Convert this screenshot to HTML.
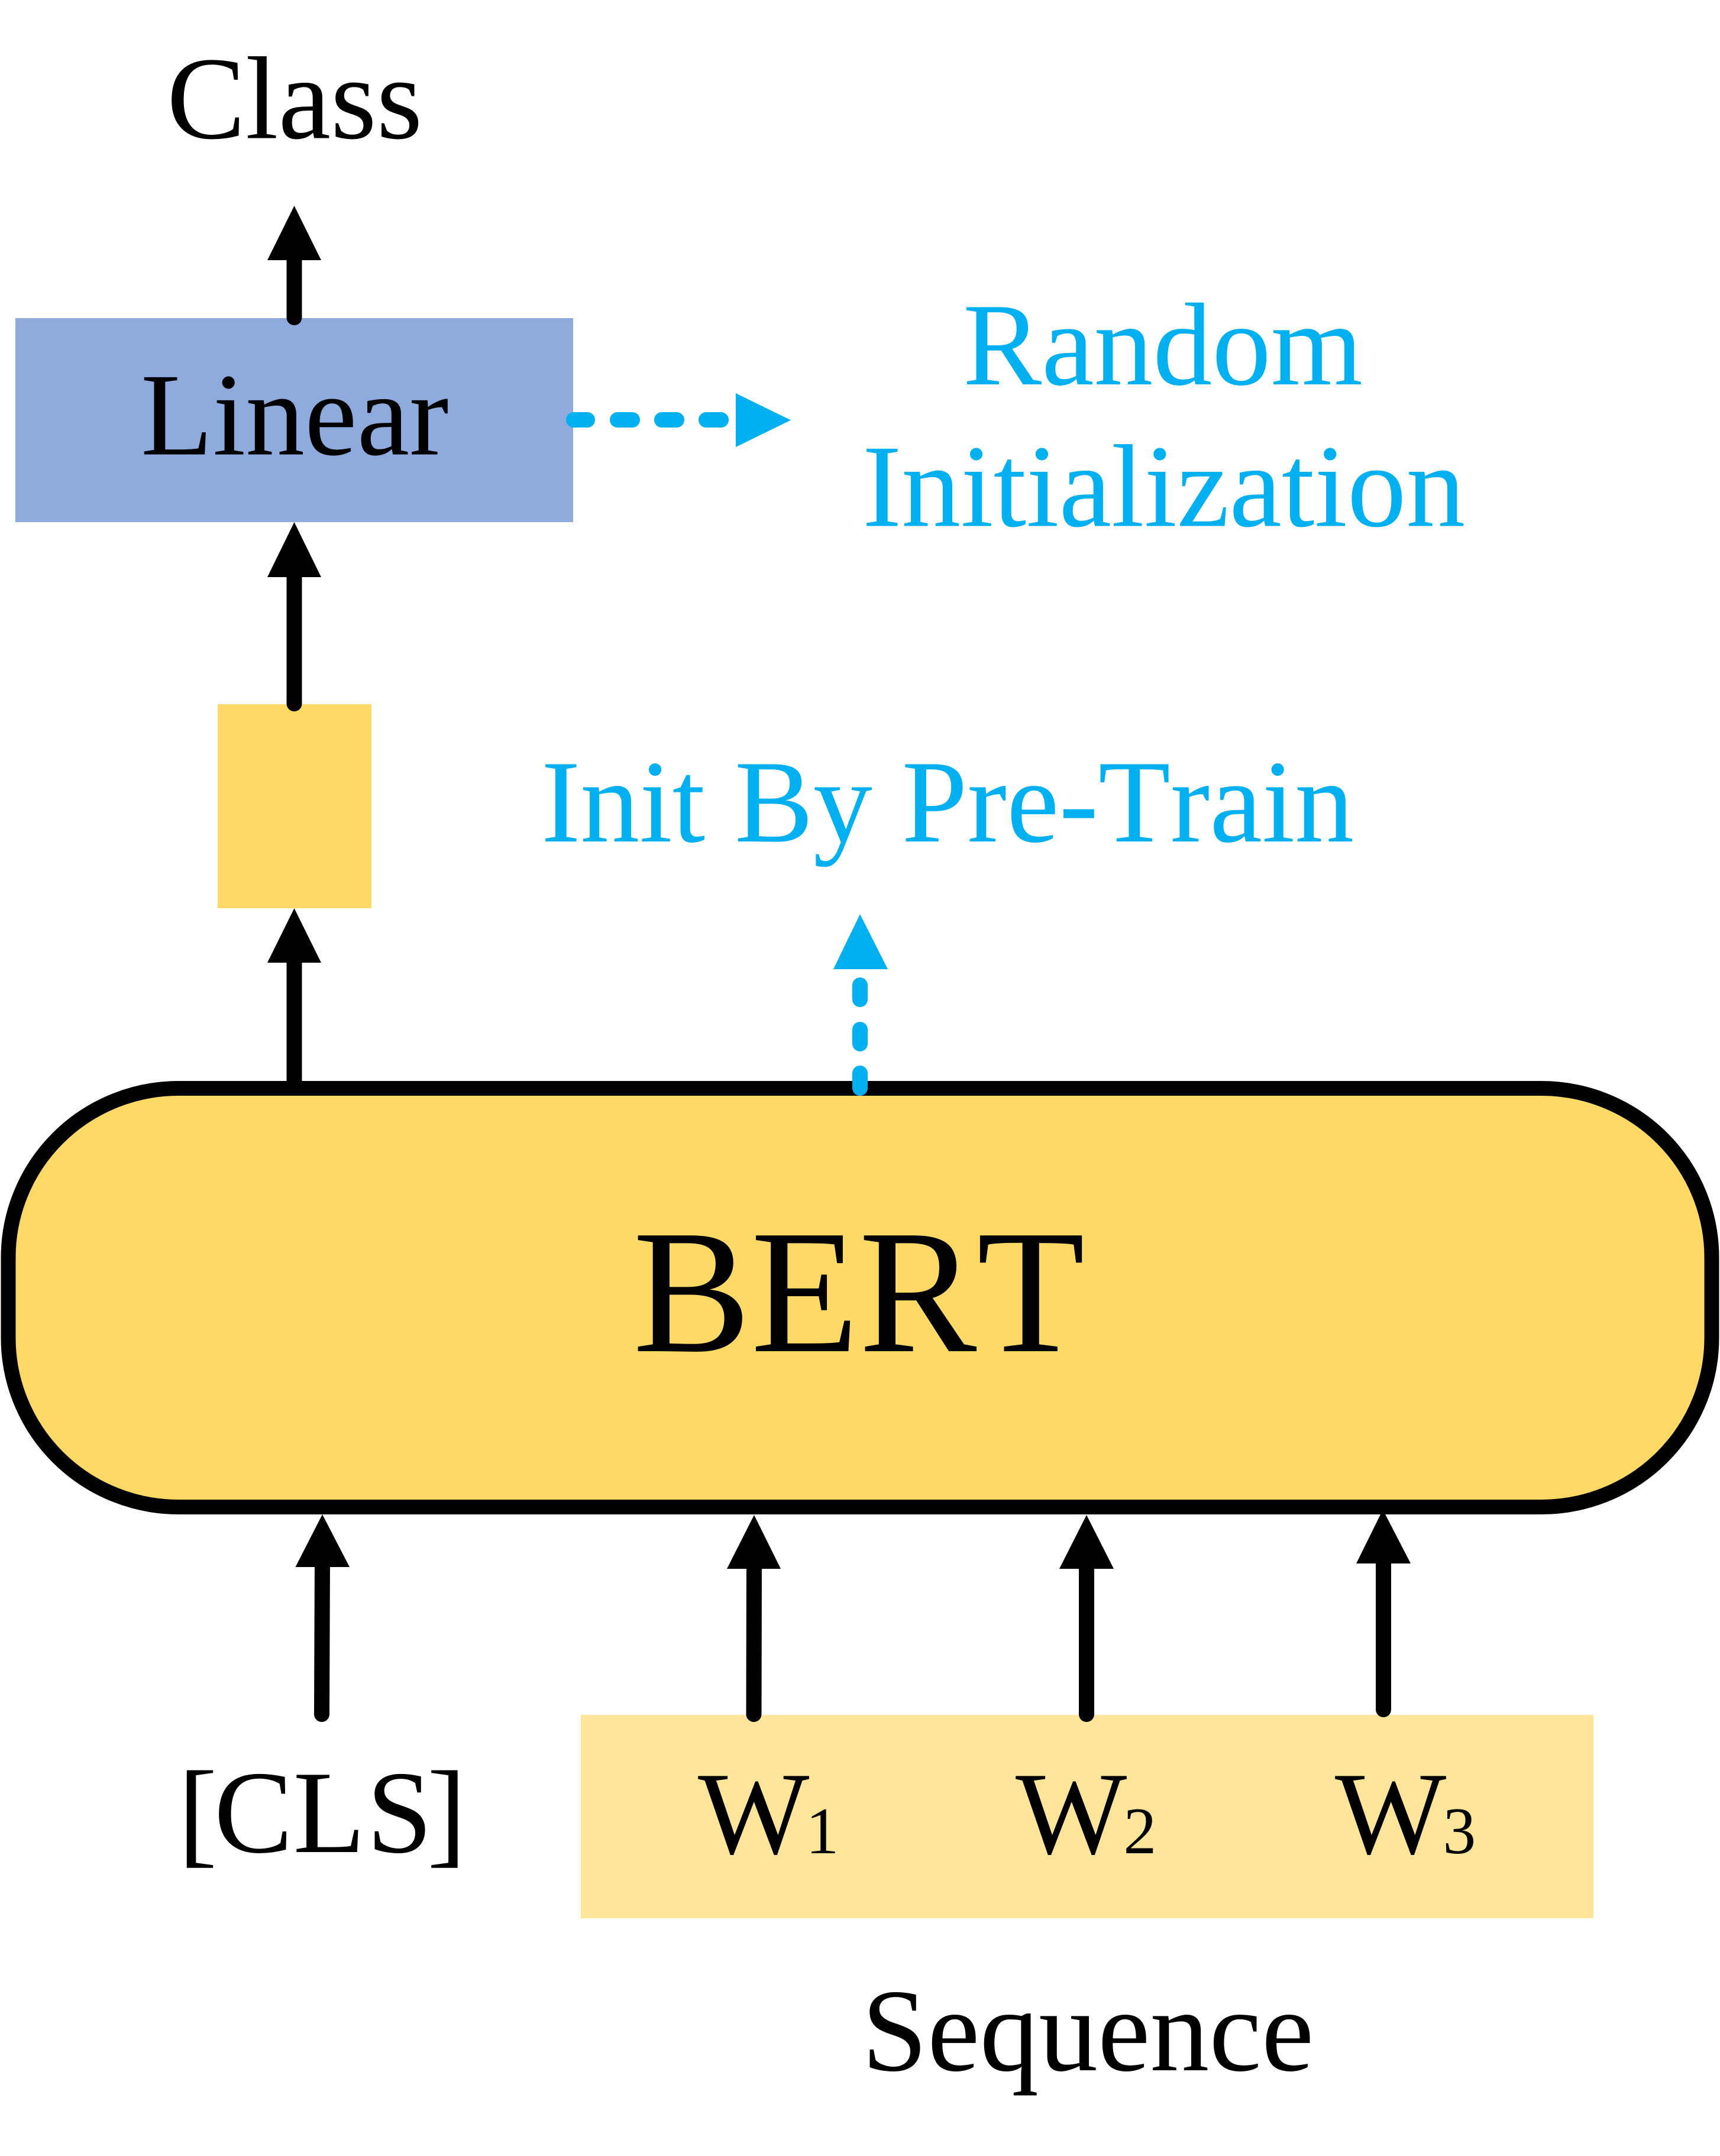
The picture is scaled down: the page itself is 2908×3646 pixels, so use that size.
<!DOCTYPE html>
<html>
<head>
<meta charset="utf-8">
<style>
html,body{margin:0;padding:0;background:#fff;width:2908px;height:3646px;overflow:hidden}
svg{display:block}
text{font-family:"Liberation Serif","Times New Roman",serif;font-kerning:none;font-size:199.5px;fill:#000}
.b{fill:#00B0F0}
.s{font-size:112px}
</style>
</head>
<body>
<svg width="2908" height="3646" viewBox="0 0 2908 3646" xmlns="http://www.w3.org/2000/svg">
<rect width="2908" height="3646" fill="#fff"/>

<rect x="26" y="538" width="943" height="345" fill="#8FAADC"/>
<rect x="368" y="1191" width="260" height="345" fill="#FFD966"/>
<rect x="982" y="2900" width="1712" height="344" fill="#FFE599"/>

<!-- Upper black arrows -->
<g stroke="#000" stroke-width="26" stroke-linecap="round" fill="none">
<line x1="497.5" y1="430" x2="497.5" y2="537"/>
<line x1="497.5" y1="965" x2="497.5" y2="1190"/>
<line x1="497.5" y1="1620" x2="497.5" y2="1840"/>
</g>
<g fill="#000">
<polygon points="497.5,348 543,440 452,440"/>
<polygon points="497.5,883 543,976 452,976"/>
<polygon points="497.5,1536 543,1628 452,1628"/>
</g>

<!-- BERT -->
<rect x="14" y="1840.5" width="2880" height="708" rx="288" ry="286" fill="#FFD966" stroke="#000" stroke-width="25"/>

<!-- Lower black arrows -->
<g stroke="#000" stroke-width="26" stroke-linecap="round" fill="none">
<line x1="545" y1="2640" x2="544" y2="2899"/>
<line x1="1275" y1="2640" x2="1274.5" y2="2899"/>
<line x1="1837" y1="2640" x2="1837" y2="2899"/>
<line x1="2339" y1="2635" x2="2339" y2="2891"/>
</g>
<g fill="#000">
<polygon points="545,2561 591,2650 499.500,2650"/>
<polygon points="1275,2562 1320,2653 1229,2653"/>
<polygon points="1837,2562 1883,2653 1791,2653"/>
<polygon points="2338,2553 2385,2644 2293,2644"/>
</g>

<!-- Blue dashed arrows -->
<g stroke="#00B0F0" stroke-width="26" stroke-linecap="round" fill="none">
<line x1="970" y1="710" x2="993" y2="710"/>
<line x1="1044" y1="710" x2="1069" y2="710"/>
<line x1="1119" y1="710" x2="1144" y2="710"/>
<line x1="1194" y1="710" x2="1219" y2="710"/>
<line x1="1454" y1="1666" x2="1454" y2="1690"/>
<line x1="1454" y1="1741" x2="1454" y2="1765"/>
<line x1="1454" y1="1815" x2="1454" y2="1840"/>
</g>
<g fill="#00B0F0">
<polygon points="1244,665 1337,710.500 1244,756"/>
<polygon points="1454,1546 1501,1639 1409,1639"/>
</g>

<!-- Labels -->
<text x="282" y="233.500">Class</text>
<text x="238" y="768.500">Linear</text>
<text class="b" x="1628" y="650">Random</text>
<text class="b" x="1458" y="889.500">Initialization</text>
<text class="b" x="915" y="1423">Init By Pre-Train</text>
<text x="1070" y="2285" style="font-size:299px">BERT</text>
<text x="301 362 495.600 620 722" y="3132">[CLS]</text>
<text x="1180" y="3134">W<tspan class="s" dx="-6">1</tspan></text>
<text x="1717" y="3134">W<tspan class="s" dx="-6">2</tspan></text>
<text x="2257" y="3134">W<tspan class="s" dx="-6">3</tspan></text>
<text x="1457" y="3501">Sequence</text>
</svg>
</body>
</html>
